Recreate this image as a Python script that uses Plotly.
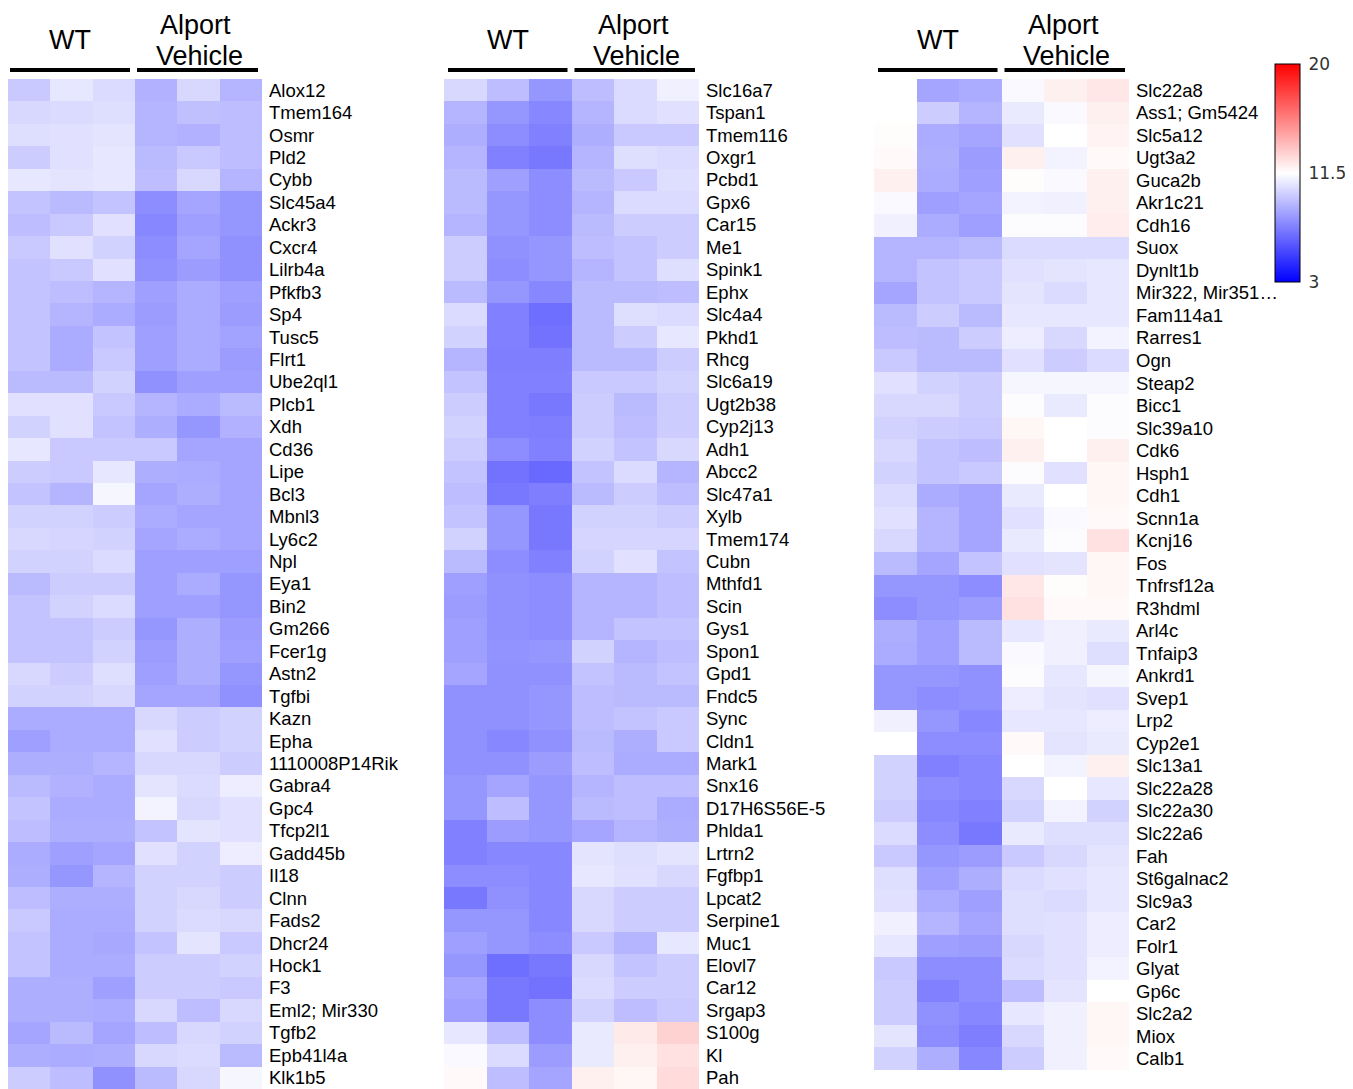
import plotly.graph_objects as go

# page body has an 8px margin; positions below are reference pixels minus that offset
OFF = 8
W, H = 1353 - OFF, 1089 - OFF

cols = ["WT1", "WT2", "WT3", "AV1", "AV2", "AV3"]

genes1 = ["Alox12", "Tmem164", "Osmr", "Pld2", "Cybb", "Slc45a4", "Ackr3", "Cxcr4", "Lilrb4a",
          "Pfkfb3", "Sp4", "Tusc5", "Flrt1", "Ube2ql1", "Plcb1", "Xdh", "Cd36", "Lipe", "Bcl3",
          "Mbnl3", "Ly6c2", "Npl", "Eya1", "Bin2", "Gm266", "Fcer1g", "Astn2", "Tgfbi", "Kazn",
          "Epha", "1110008P14Rik", "Gabra4", "Gpc4", "Tfcp2l1", "Gadd45b", "Il18", "Clnn",
          "Fads2", "Dhcr24", "Hock1", "F3", "Eml2; Mir330", "Tgfb2", "Epb41l4a", "Klk1b5"]
vals1 = [
    [9.7, 10.7, 10.3, 8.9, 10.2, 9.0],
    [10.2, 10.3, 10.4, 9.0, 9.4, 9.3],
    [10.4, 10.5, 10.6, 9.0, 8.9, 9.3],
    [9.8, 10.5, 10.7, 9.2, 9.7, 9.3],
    [10.7, 10.6, 10.7, 9.3, 10.2, 9.0],
    [9.5, 9.2, 9.5, 7.7, 8.5, 8.0],
    [9.3, 9.7, 10.5, 7.5, 8.3, 8.0],
    [9.7, 10.5, 10.0, 7.7, 8.5, 7.8],
    [9.5, 9.7, 10.5, 7.8, 8.2, 7.8],
    [9.5, 9.3, 9.0, 8.3, 8.7, 8.3],
    [9.5, 9.0, 8.7, 8.2, 8.7, 8.2],
    [9.5, 8.7, 9.5, 8.3, 8.7, 8.4],
    [9.5, 8.7, 9.7, 8.3, 8.7, 8.2],
    [9.2, 9.2, 10.0, 7.8, 8.3, 8.3],
    [10.5, 10.5, 9.7, 9.0, 8.7, 9.2],
    [10.0, 10.5, 9.5, 8.8, 8.0, 8.9],
    [10.7, 9.7, 9.7, 9.7, 8.5, 8.5],
    [9.8, 9.7, 10.7, 8.8, 8.7, 8.5],
    [9.5, 9.0, 11.2, 8.5, 8.8, 8.5],
    [10.0, 10.0, 9.8, 8.7, 8.5, 8.5],
    [10.2, 10.1, 10.0, 8.5, 8.7, 8.5],
    [10.0, 10.0, 10.3, 8.3, 8.3, 8.3],
    [9.2, 9.8, 9.8, 8.3, 8.7, 8.0],
    [9.5, 10.0, 10.3, 8.3, 8.3, 8.0],
    [9.5, 9.5, 9.8, 8.0, 8.8, 8.2],
    [9.5, 9.5, 10.0, 8.2, 8.8, 8.3],
    [10.2, 9.8, 10.4, 8.3, 8.8, 8.0],
    [10.0, 10.0, 10.2, 8.5, 8.5, 7.8],
    [8.7, 8.7, 8.7, 10.2, 9.8, 10.0],
    [8.3, 8.7, 8.7, 10.5, 9.8, 10.0],
    [8.8, 8.8, 9.0, 10.2, 10.2, 9.8],
    [9.2, 8.9, 8.7, 10.6, 10.3, 10.9],
    [9.5, 8.7, 8.7, 11.1, 10.2, 10.5],
    [9.3, 8.8, 8.8, 9.5, 10.6, 10.5],
    [8.7, 8.3, 8.5, 10.5, 10.0, 10.9],
    [8.8, 8.0, 9.0, 10.0, 10.0, 9.8],
    [9.3, 8.8, 8.8, 10.0, 10.2, 9.8],
    [9.7, 8.7, 8.7, 10.0, 10.3, 10.2],
    [9.5, 8.7, 8.6, 9.5, 10.6, 9.7],
    [9.5, 8.7, 8.7, 9.8, 9.8, 10.0],
    [8.8, 8.8, 8.3, 9.8, 9.8, 9.7],
    [8.8, 8.8, 8.7, 10.2, 9.3, 10.2],
    [8.5, 9.2, 8.5, 9.3, 10.2, 10.0],
    [8.8, 8.7, 8.8, 10.2, 10.3, 9.2],
    [9.8, 9.3, 7.8, 9.2, 10.2, 11.2],
]

genes2 = ["Slc16a7", "Tspan1", "Tmem116", "Oxgr1", "Pcbd1", "Gpx6", "Car15", "Me1", "Spink1",
          "Ephx", "Slc4a4", "Pkhd1", "Rhcg", "Slc6a19", "Ugt2b38", "Cyp2j13", "Adh1", "Abcc2",
          "Slc47a1", "Xylb", "Tmem174", "Cubn", "Mthfd1", "Scin", "Gys1", "Spon1", "Gpd1",
          "Fndc5", "Sync", "Cldn1", "Mark1", "Snx16", "D17H6S56E-5", "Phlda1", "Lrtrn2",
          "Fgfbp1", "Lpcat2", "Serpine1", "Muc1", "Elovl7", "Car12", "Srgap3", "S100g", "Kl", "Pah"]
vals2 = [
    [10.2, 9.3, 8.0, 9.3, 10.3, 11.0],
    [9.0, 8.0, 7.5, 9.0, 10.3, 10.5],
    [8.8, 7.7, 7.3, 8.8, 9.7, 9.7],
    [9.0, 7.3, 7.0, 9.0, 10.4, 10.3],
    [9.2, 8.3, 7.7, 9.2, 9.7, 10.4],
    [9.2, 8.0, 7.7, 9.0, 10.3, 10.3],
    [9.0, 8.0, 7.7, 9.2, 9.8, 9.8],
    [9.8, 7.8, 8.0, 9.3, 9.5, 9.8],
    [9.8, 7.7, 8.0, 9.0, 9.5, 10.4],
    [9.2, 8.0, 7.5, 9.2, 9.2, 9.3],
    [10.3, 7.3, 6.7, 9.2, 10.4, 10.3],
    [10.0, 7.3, 6.8, 9.2, 9.8, 10.7],
    [9.0, 7.2, 7.2, 9.2, 9.2, 9.8],
    [9.5, 7.3, 7.3, 9.7, 9.7, 10.0],
    [9.8, 7.3, 7.0, 9.8, 9.2, 9.8],
    [10.0, 7.3, 7.2, 9.8, 9.3, 9.8],
    [9.8, 7.7, 7.3, 10.0, 9.5, 10.2],
    [9.5, 6.8, 6.5, 9.5, 10.3, 9.0],
    [9.3, 7.0, 7.2, 9.2, 9.8, 9.3],
    [9.5, 8.0, 7.0, 10.0, 10.0, 9.8],
    [10.0, 8.0, 7.0, 10.1, 10.1, 10.1],
    [9.2, 7.7, 7.3, 10.0, 10.5, 9.5],
    [8.3, 7.8, 7.7, 9.0, 9.0, 9.3],
    [8.2, 7.8, 7.7, 9.0, 9.0, 9.3],
    [8.3, 7.8, 7.7, 9.0, 9.5, 9.5],
    [8.3, 7.9, 8.0, 10.0, 9.0, 9.3],
    [8.5, 7.8, 7.8, 9.5, 9.2, 9.5],
    [7.8, 7.8, 8.0, 9.3, 9.2, 9.2],
    [7.8, 7.8, 8.0, 9.3, 9.5, 9.7],
    [7.8, 7.5, 7.8, 9.2, 8.8, 9.7],
    [7.8, 7.8, 8.2, 9.3, 8.7, 8.7],
    [8.0, 8.5, 8.0, 9.0, 9.3, 9.3],
    [8.0, 9.3, 8.0, 9.2, 9.3, 8.7],
    [7.3, 8.2, 8.0, 8.5, 9.0, 8.8],
    [7.3, 7.5, 7.5, 10.6, 10.4, 10.6],
    [7.7, 7.7, 7.5, 10.7, 10.5, 10.2],
    [7.0, 7.8, 7.5, 10.2, 9.8, 9.8],
    [8.0, 8.0, 7.5, 10.2, 9.8, 9.8],
    [8.3, 8.0, 7.7, 9.7, 9.0, 10.7],
    [8.0, 6.7, 7.0, 10.2, 9.5, 9.8],
    [8.5, 7.0, 6.8, 10.3, 9.8, 9.8],
    [8.3, 7.0, 7.7, 10.0, 9.3, 9.7],
    [10.7, 9.3, 7.7, 10.8, 12.2, 13.0],
    [11.3, 10.3, 8.2, 10.8, 12.0, 12.5],
    [11.7, 9.3, 8.5, 12.0, 11.8, 12.7],
]

genes3 = ["Slc22a8", "Ass1; Gm5424", "Slc5a12", "Ugt3a2", "Guca2b", "Akr1c21", "Cdh16", "Suox",
          "Dynlt1b", "Mir322, Mir351…", "Fam114a1", "Rarres1", "Ogn", "Steap2", "Bicc1",
          "Slc39a10", "Cdk6", "Hsph1", "Cdh1", "Scnn1a", "Kcnj16", "Fos", "Tnfrsf12a", "R3hdml",
          "Arl4c", "Tnfaip3", "Ankrd1", "Svep1", "Lrp2", "Cyp2e1", "Slc13a1", "Slc22a28",
          "Slc22a30", "Slc22a6", "Fah", "St6galnac2", "Slc9a3", "Car2", "Folr1", "Glyat", "Gp6c",
          "Slc2a2", "Miox", "Calb1"]
vals3 = [
    [11.5, 8.5, 8.7, 11.3, 12.0, 12.3],
    [11.5, 9.8, 9.0, 10.8, 11.3, 12.0],
    [11.6, 8.7, 8.5, 10.5, 11.5, 11.9],
    [11.7, 8.8, 8.2, 12.0, 11.1, 11.7],
    [12.0, 8.7, 8.3, 11.6, 11.3, 12.0],
    [11.3, 8.3, 8.5, 11.1, 11.0, 12.0],
    [11.0, 8.7, 8.3, 11.4, 11.4, 12.1],
    [9.0, 9.0, 9.2, 10.3, 10.3, 10.3],
    [9.0, 9.5, 9.7, 10.5, 10.6, 10.7],
    [8.5, 9.5, 9.7, 10.6, 10.3, 10.7],
    [9.2, 9.8, 9.2, 10.7, 10.7, 10.7],
    [9.3, 9.2, 9.8, 10.9, 10.2, 11.1],
    [9.7, 9.2, 9.2, 10.5, 9.8, 10.3],
    [10.5, 10.0, 9.8, 11.2, 11.2, 11.2],
    [10.2, 10.2, 9.8, 11.4, 10.8, 11.4],
    [10.0, 9.8, 9.7, 11.8, 11.5, 11.4],
    [10.2, 9.5, 9.3, 12.0, 11.5, 12.0],
    [10.0, 9.5, 9.7, 11.4, 10.5, 11.8],
    [10.3, 8.7, 8.5, 10.8, 11.5, 11.8],
    [10.5, 9.0, 8.5, 10.5, 11.3, 11.7],
    [10.2, 9.0, 8.5, 10.8, 11.4, 12.5],
    [9.2, 8.5, 9.5, 10.5, 10.6, 11.8],
    [8.0, 8.0, 7.7, 12.3, 11.6, 11.8],
    [7.7, 8.0, 8.2, 12.5, 11.7, 11.7],
    [8.8, 8.3, 9.2, 10.7, 11.0, 10.8],
    [8.7, 8.3, 9.2, 11.3, 11.0, 10.4],
    [8.0, 8.0, 7.8, 11.4, 10.7, 11.2],
    [8.0, 7.7, 7.8, 10.9, 10.6, 10.5],
    [11.0, 8.0, 7.5, 10.7, 10.7, 10.9],
    [11.5, 7.7, 7.7, 11.7, 10.6, 10.8],
    [10.0, 7.3, 7.5, 11.5, 11.1, 12.0],
    [10.0, 7.7, 7.5, 10.2, 11.5, 10.7],
    [9.8, 7.5, 7.3, 10.0, 11.1, 10.0],
    [10.3, 7.7, 7.0, 10.8, 10.4, 10.4],
    [9.7, 8.0, 8.2, 9.7, 10.2, 10.6],
    [10.4, 8.3, 8.8, 10.3, 10.5, 10.7],
    [10.5, 8.7, 8.3, 10.4, 10.3, 10.7],
    [11.0, 9.0, 8.5, 10.4, 10.5, 10.9],
    [10.7, 8.3, 8.2, 10.2, 10.5, 10.9],
    [9.7, 7.7, 7.7, 10.3, 10.5, 11.1],
    [9.8, 7.3, 7.7, 9.3, 10.6, 11.5],
    [9.8, 7.8, 7.5, 10.7, 11.0, 11.8],
    [10.6, 7.7, 7.2, 10.2, 11.0, 11.8],
    [10.0, 8.8, 7.5, 9.8, 11.0, 11.7],
]

group_labels = ["WT", "Alport", "Vehicle"]
color_ticks = [3, 11.5, 20]
color_ticktext = ["3", "11.5", "20"]

scale = [[0.0, "rgb(0,0,255)"], [0.5, "rgb(255,255,255)"], [1.0, "rgb(255,0,0)"]]


def clamp(v):
    return min(1.0, max(0.0, v))


def px_x(p):
    return clamp((p - OFF) / W)


def px_y(p):
    return clamp(1 - (p - OFF) / H)


fig = go.Figure()
panels = [
    (genes1, vals1, "x", "y", (6, 262), (79, 1089)),
    (genes2, vals2, "x2", "y2", (444, 699), (79, 1089)),
    (genes3, vals3, "x3", "y3", (874, 1129), (79, 1070)),
]
label_font = dict(family="Liberation Sans, Arial", size=18.5, color="black")
hfont = dict(family="Liberation Sans, Arial", size=27, color="black")

for i, (g, v, xa, ya, (x0, x1), (y0, y1)) in enumerate(panels):
    last = i == 2
    fig.add_trace(go.Heatmap(
        z=v, x=cols, y=g, xaxis=xa, yaxis=ya,
        colorscale=scale, zmin=3, zmax=20, xgap=0, ygap=0,
        showscale=last,
        colorbar=dict(
            x=px_x(1275), xanchor="left", xpad=0,
            y=px_y(64), yanchor="top", ypad=0,
            len=218, lenmode="pixels", thickness=25, thicknessmode="pixels",
            outlinewidth=1, outlinecolor="black",
            tickvals=color_ticks, ticktext=color_ticktext,
            ticks="outside", ticklen=5, tickcolor="rgba(0,0,0,0)",
            tickfont=dict(family="DejaVu Sans", size=17, color="#333"),
        ) if last else None,
    ))
    sfx = "" if i == 0 else str(i + 1)
    fig.layout["xaxis" + sfx] = dict(
        domain=[px_x(x0), px_x(x1)], showticklabels=False, showgrid=False,
        zeroline=False, showline=False, ticks="", anchor=ya,
    )
    fig.layout["yaxis" + sfx] = dict(
        domain=[px_y(y1), px_y(y0)], type="category", categoryorder="array",
        categoryarray=g, autorange="reversed", side="right", anchor=xa,
        showgrid=False, zeroline=False, showline=False, ticks="",
        tickfont=label_font, ticklabelstandoff=6,
    )

    # group headers
    left_c = x0 + (x1 - x0) * 0.25
    right_c = x0 + (x1 - x0) * 0.75
    fig.add_annotation(x=px_x(left_c), y=px_y(40), xref="paper", yref="paper",
                       text=group_labels[0], showarrow=False, font=hfont,
                       xanchor="center", yanchor="middle")
    fig.add_annotation(x=px_x(right_c - 2), y=px_y(25), xref="paper", yref="paper",
                       text=group_labels[1], showarrow=False, font=hfont,
                       xanchor="center", yanchor="middle")
    fig.add_annotation(x=px_x(right_c + 1), y=px_y(56), xref="paper", yref="paper",
                       text=group_labels[2], showarrow=False, font=hfont,
                       xanchor="center", yanchor="middle")
    mid = (x0 + x1) / 2
    fig.add_shape(type="line", xref="paper", yref="paper",
                  x0=px_x(x0 + 4), x1=px_x(mid - 4), y0=px_y(70), y1=px_y(70),
                  line=dict(color="black", width=4))
    fig.add_shape(type="line", xref="paper", yref="paper",
                  x0=px_x(mid + 3), x1=px_x(x1 - 4), y0=px_y(70), y1=px_y(70),
                  line=dict(color="black", width=4))

fig.update_layout(
    width=W, height=H, margin=dict(l=0, r=0, t=0, b=0),
    paper_bgcolor="white", plot_bgcolor="white", showlegend=False,
)

fig.write_html("out.html")
